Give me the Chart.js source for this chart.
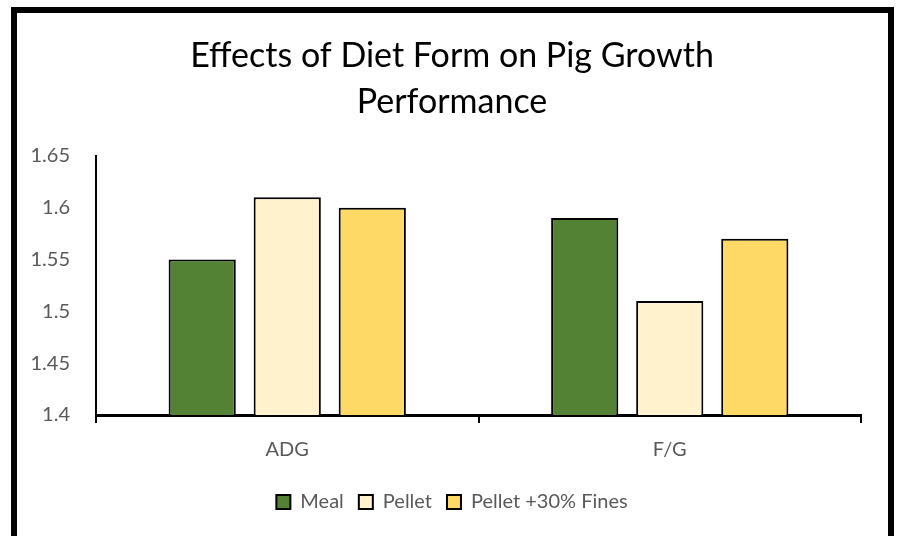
<!DOCTYPE html>
<html>
<head>
<meta charset="utf-8">
<script src="https://cdn.jsdelivr.net/npm/chart.js@4"></script>
<style>
	html, body { margin: 0; padding: 0; background: #fff; overflow: hidden; }
	#frame { position: absolute; left: 11px; top: 7px; width: 871px; height: 600px; border: 6px solid #000; }
	#wrap { position: absolute; left: 0; top: 0; width: 897px; height: 536px; }
</style>
</head>
<body>
<div id="frame"></div>
<div id="wrap"><canvas id="chart"></canvas></div>
<script>
var categories = ['ADG', 'F/G'];
var meal = [1.55, 1.59];
var pellet = [1.61, 1.51];
var pelletFines = [1.60, 1.57];
var yTicks = [1.4, 1.45, 1.5, 1.55, 1.6, 1.65];

var FONT = 'Lato, "Open Sans", sans-serif';
var GREY = '#595959';

var _bar = function(label, values, color) {
	return {
		label: label,
		data: values,
		backgroundColor: color,
		borderColor: '#000',
		borderWidth: 2,
		borderSkipped: 'bottom',
		barPercentage: 0.79,
		categoryPercentage: 0.667
	};
};

window.addEventListener('load', function() {
	var ctx = document.getElementById('chart');
	new Chart(ctx, {
		type: 'bar',
		data: {
			labels: categories,
			datasets: [
				_bar('Meal', meal, '#548235'),
				_bar('Pellet', pellet, '#FFF2CC'),
				_bar('Pellet +30% Fines', pelletFines, '#FFD966')
			]
		},
		options: {
			responsive: true,
			maintainAspectRatio: false,
			animation: false,
			layout: { padding: { top: 33, left: 18, right: 11, bottom: 14 } },
			plugins: {
				title: {
					display: true,
					text: ['Effects of Diet Form on Pig Growth', 'Performance'],
					color: '#000',
					font: { family: FONT, size: 34, weight: 'normal', lineHeight: 1.35 },
					padding: { top: 0, bottom: 31 }
				},
				legend: {
					position: 'bottom',
					labels: {
						color: GREY,
						font: { family: FONT, size: 20 },
						boxWidth: 14,
						boxHeight: 14,
						padding: 15
					}
				},
				tooltip: { enabled: false }
			},
			scales: {
				x: {
					grid: { display: true, drawOnChartArea: false, drawTicks: true, tickLength: 8, color: '#000', lineWidth: 2, offset: true },
					border: { display: true, color: '#000', width: 3 },
					ticks: { color: GREY, font: { family: FONT, size: 20 }, padding: 15 }
				},
				y: {
					min: 1.4,
					max: 1.65,
					afterBuildTicks: function(axis) {
						axis.ticks = yTicks.map(function(v) { return { value: v }; });
					},
					afterFit: function(axis) {
						axis.width = 78;
					},
					grid: { display: false },
					border: { display: true, color: '#000', width: 2 },
					ticks: {
						color: GREY,
						font: { family: FONT, size: 20 },
						padding: 18,
						callback: function(v) { return String(+v.toFixed(2)); }
					}
				},
				// empty right-hand spacer so the title centres on the frame
				spacer: {
					position: 'right',
					display: true,
					grid: { display: false },
					border: { display: false },
					ticks: { display: false },
					afterFit: function(axis) {
						axis.width = 25;
					}
				}
			}
		}
	});
});
</script>
</body>
</html>
